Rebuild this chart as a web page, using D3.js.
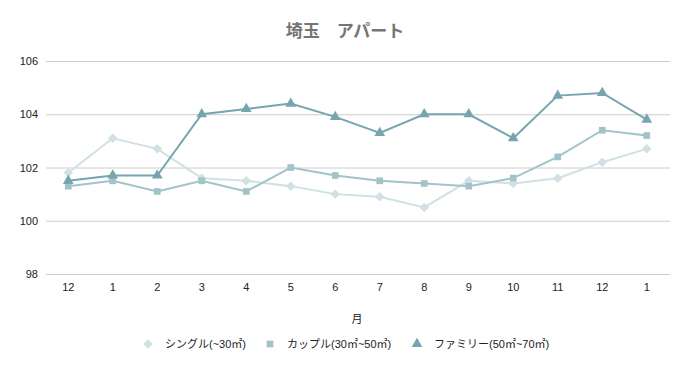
<!DOCTYPE html>
<html><head><meta charset="utf-8">
<script src="https://cdn.jsdelivr.net/npm/d3@7"></script>
<style>body{margin:0;background:#fff;}</style>
</head><body><svg id="c" width="688" height="371"></svg>
<script>
const months = ["12","1","2","3","4","5","6","7","8","9","10","11","12","1"];
const single = [101.8,103.1,102.7,101.6,101.5,101.3,101.0,100.9,100.5,101.5,101.4,101.6,102.2,102.7];
const couple = [101.3,101.5,101.1,101.5,101.1,102.0,101.7,101.5,101.4,101.3,101.6,102.4,103.4,103.2];
const family = [101.5,101.7,101.7,104.0,104.2,104.4,103.9,103.3,104.0,104.0,103.1,104.7,104.8,103.8];
const seriesNames = ["シングル(~30㎡)","カップル(30㎡~50㎡)","ファミリー(50㎡~70㎡)"];
const yTicks = [98,100,102,104,106];
const colors = ["#d0e0e3","#a2c4c9","#76a5af"];
const symbols = [d3.symbolSquare, d3.symbolSquare, d3.symbolTriangle];
const rot = [45,0,0];
const sizes = [45,45,50];
const latin = "'Liberation Sans',Arial,sans-serif";
const cjk = "'Liberation Sans','Noto Sans CJK JP',sans-serif";

const svg = d3.select("#c");
const x = d3.scaleBand().domain(months.map((m,i)=>i)).range([46,669]);
const y = d3.scaleLinear().domain([98,106]).range([274,61]);

svg.append("text").attr("x",345).attr("y",37).attr("text-anchor","middle")
  .style("font-family","'Noto Sans CJK JP',sans-serif").attr("font-size",17).attr("font-weight","bold").attr("fill","#757575").text("埼玉　アパート");

const gy = svg.append("g").attr("transform","translate(46,0)")
  .call(d3.axisLeft(y).tickValues(yTicks).tickSize(-624).tickFormat(d3.format("d")));
gy.select(".domain").remove();
gy.selectAll("line").attr("stroke","#cccccc");
gy.selectAll("text").attr("font-size",11).attr("fill","#222").attr("x",-8).style("font-family",latin);

const gx = svg.append("g").attr("transform","translate(0,274)")
  .call(d3.axisBottom(x).tickSize(0).tickFormat(i=>months[i]));
gx.select(".domain").remove();
gx.selectAll("text").attr("font-size",11).attr("fill","#222").attr("dy","1.3em").style("font-family",latin);

svg.append("text").attr("x",357).attr("y",323).attr("text-anchor","middle")
  .style("font-family",cjk).attr("font-size",11).attr("fill","#222").text("月");

const data = [single,couple,family];
const cx = i => x(i)+x.bandwidth()/2;
const line = d3.line().x((d,i)=>cx(i)).y(d=>y(d));
data.forEach((s,k)=>{
  svg.append("path").datum(s).attr("d",line).attr("fill","none")
    .attr("stroke",colors[k]).attr("stroke-width",2);
  svg.append("g").selectAll("path").data(s).join("path")
    .attr("transform",(d,i)=>`translate(${cx(i)},${y(d)}) rotate(${rot[k]})`)
    .attr("d",d3.symbol().type(symbols[k]).size(sizes[k]))
    .attr("fill",colors[k]);
});

const legX = [148,270,417];
seriesNames.forEach((n,k)=>{
  svg.append("path").attr("transform",`translate(${legX[k]},${344}) rotate(${rot[k]})`)
    .attr("d",d3.symbol().type(symbols[k]).size(sizes[k])).attr("fill",colors[k]);
  svg.append("text").attr("x",legX[k]+17).attr("y",348)
    .style("font-family",cjk).attr("font-size",11).attr("fill","#222").text(n);
});
</script></body></html>
